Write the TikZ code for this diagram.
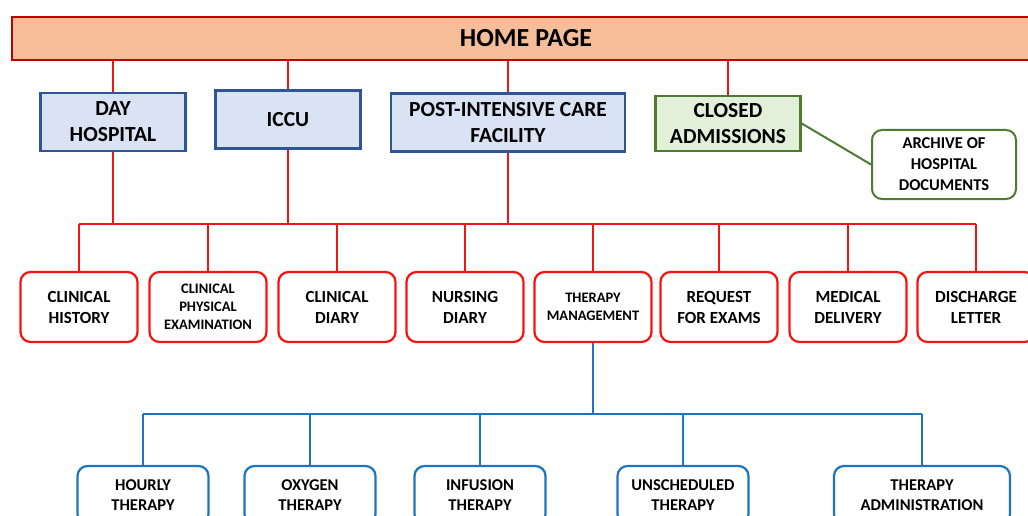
\documentclass[tikz,border=0pt]{standalone}
\usepackage{fontspec}
\setmainfont{Carlito}
\definecolor{salmonHP}{HTML}{F5BE98}
\definecolor{granate}{HTML}{C00000}
\definecolor{rojoL}{HTML}{F41414}
\definecolor{celesteF}{HTML}{DAE3F3}
\definecolor{azulB}{HTML}{2F5597}
\definecolor{verdeF}{HTML}{E2F0D9}
\definecolor{verdeB}{HTML}{4E7A32}
\definecolor{azulL}{HTML}{1F74BF}

\begin{document}
\begin{tikzpicture}[x=1pt,y=-1pt,
  homebar/.style={draw=granate,line width=2.5pt,fill=salmonHP,
    minimum width=1028pt,minimum height=43pt,
    font=\bfseries\fontsize{26}{30}\selectfont},
  unitbox/.style={draw=azulB,line width=2.5pt,fill=celesteF,align=center,
    minimum width=145pt,minimum height=58pt,inner sep=0pt,
    font=\bfseries\fontsize{21.5}{26}\selectfont},
  closedbox/.style={unitbox,draw=verdeB,fill=verdeF},
  archbox/.style={draw=verdeB,line width=2pt,fill=white,rounded corners=10pt,
    align=center,minimum width=144pt,minimum height=69pt,inner sep=0pt,
    font=\bfseries\fontsize{16.5}{21}\selectfont},
  pagebox/.style={draw=rojoL,line width=2.2pt,fill=white,rounded corners=10pt,
    align=center,minimum width=117pt,minimum height=70pt,inner sep=0pt,
    font=\bfseries\fontsize{17}{21}\selectfont},
  smalltext/.style={font=\bfseries\fontsize{14.5}{18}\selectfont},
  subbox/.style={pagebox,draw=azulL,minimum width=131pt,minimum height=58pt,
    font=\bfseries\fontsize{16.5}{20}\selectfont},
  redline/.style={draw=rojoL,line width=2pt},
  blueline/.style={draw=azulL,line width=2pt},
  greenline/.style={draw=verdeB,line width=2pt}]
  \clip (0,0) rectangle (1028,516);
  % main page
  \node[homebar] (home) at (526,38.5) {HOME PAGE};
  % wards
  \node[unitbox] (day) at (113,122) {DAY\\HOSPITAL};
  \node[unitbox] (iccu) at (288,119.5) {ICCU};
  \node[unitbox,minimum width=234pt] (post) at (508,122.5)
    {POST-INTENSIVE CARE\\FACILITY};
  \node[closedbox,minimum height=55pt] (closed) at (728,123.5)
    {CLOSED\\ADMISSIONS};
  \node[archbox] (arch) at (944,164.5) {ARCHIVE OF\\HOSPITAL\\DOCUMENTS};
  \draw[redline] (day.north) -- (day.north |- home.south);
  \draw[redline] (iccu.north) -- (iccu.north |- home.south);
  \draw[redline] (post.north) -- (post.north |- home.south);
  \draw[redline] (closed.north) -- (closed.north |- home.south);
  \draw[greenline] (closed.east) -- (arch.west);
  % patient record pages
  \coordinate (bus) at (79,224);
  \node[pagebox] (hist) at (79,307) {CLINICAL\\HISTORY};
  \node[pagebox,smalltext] (phys) at (208,307)
    {CLINICAL\\PHYSICAL\\EXAMINATION};
  \node[pagebox] (cdiary) at (337,307) {CLINICAL\\DIARY};
  \node[pagebox] (ndiary) at (465,307) {NURSING\\DIARY};
  \node[pagebox,smalltext] (ther) at (593,307) {THERAPY\\MANAGEMENT};
  \node[pagebox] (req) at (719,307) {REQUEST\\FOR EXAMS};
  \node[pagebox] (deliv) at (848,307) {MEDICAL\\DELIVERY};
  \node[pagebox] (disch) at (976,307) {DISCHARGE\\LETTER};
  \draw[redline] (day.south) -- (day.south |- bus);
  \draw[redline] (iccu.south) -- (iccu.south |- bus);
  \draw[redline] (post.south) -- (post.south |- bus);
  \draw[redline] (hist.north |- bus) -- (disch.north |- bus);
  \draw[redline] (hist.north) -- (hist.north |- bus);
  \draw[redline] (phys.north) -- (phys.north |- bus);
  \draw[redline] (cdiary.north) -- (cdiary.north |- bus);
  \draw[redline] (ndiary.north) -- (ndiary.north |- bus);
  \draw[redline] (ther.north) -- (ther.north |- bus);
  \draw[redline] (req.north) -- (req.north |- bus);
  \draw[redline] (deliv.north) -- (deliv.north |- bus);
  \draw[redline] (disch.north) -- (disch.north |- bus);
  % therapy pages
  \coordinate (subbus) at (143,414);
  \node[subbox] (hour) at (143,495) {HOURLY\\THERAPY};
  \node[subbox] (oxy) at (310,495) {OXYGEN\\THERAPY};
  \node[subbox] (inf) at (480,495) {INFUSION\\THERAPY};
  \node[subbox] (unsch) at (683,495) {UNSCHEDULED\\THERAPY};
  \node[subbox,minimum width=176pt] (admin) at (922,495)
    {THERAPY\\ADMINISTRATION};
  \draw[blueline] (ther.south) -- (ther.south |- subbus);
  \draw[blueline] (hour.north |- subbus) -- (admin.north |- subbus);
  \draw[blueline] (hour.north) -- (hour.north |- subbus);
  \draw[blueline] (oxy.north) -- (oxy.north |- subbus);
  \draw[blueline] (inf.north) -- (inf.north |- subbus);
  \draw[blueline] (unsch.north) -- (unsch.north |- subbus);
  \draw[blueline] (admin.north) -- (admin.north |- subbus);
\end{tikzpicture}
\end{document}
